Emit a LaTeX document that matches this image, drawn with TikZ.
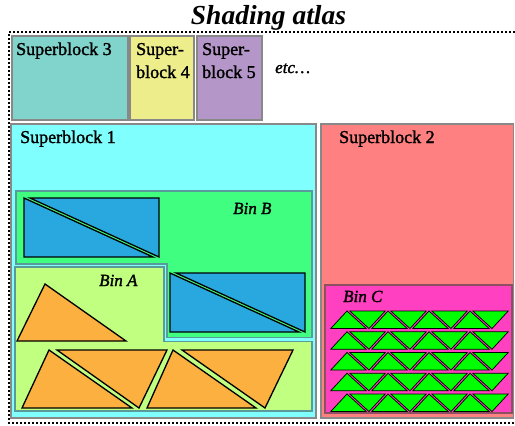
\documentclass[tikz,border=0pt]{standalone}
\usepackage{fontspec}
\setmainfont{Liberation Serif}
\newfontfamily\lblfont[FakeBold=1.6]{Liberation Serif}
\definecolor{sbgray}{HTML}{888888}
\definecolor{sbthree}{HTML}{80D4CC}
\definecolor{sbfour}{HTML}{EDED8C}
\definecolor{sbfive}{HTML}{B497C8}
\definecolor{sbone}{HTML}{80FFFF}
\definecolor{sbtwo}{HTML}{FF8080}
\definecolor{binb}{HTML}{40FF80}
\definecolor{bina}{HTML}{C0FF80}
\definecolor{binc}{HTML}{FF40C0}
\definecolor{bingray}{HTML}{5A9A9A}
\definecolor{bincedge}{HTML}{8C5060}
\definecolor{blu}{HTML}{29A8E0}
\definecolor{orng}{HTML}{FBB040}
\definecolor{grn}{HTML}{00FF00}
\begin{document}
\begin{tikzpicture}[x=1pt,y=-1pt,
  sb/.style={draw=sbgray, line width=1.8pt},
  binedge/.style={draw=bingray, line width=1.8pt},
  shp/.style={draw=black, line width=1.3pt, line join=miter},
  gtri/.style={draw=black, fill=grn, line width=0.75pt, line join=miter},
  lbl/.style={anchor=base west, inner sep=0pt, font=\fontsize{18}{23}\lblfont},
  binlbl/.style={anchor=base west, inner sep=0pt, font=\fontsize{17}{20}\lblfont\itshape},
  atlasborder/.style={line width=1.8pt, dash pattern=on 2pt off 2pt}
]
\useasboundingbox (0,0) rectangle (515,426);

% title
\node[anchor=base, inner sep=0pt, font=\fontsize{27.5}{30}\selectfont\bfseries\itshape] (title) at (268.5,24) {Shading atlas};

% atlas border
\draw[atlasborder] (515,32) -- (9,32) -- (9,423) -- (515,423);

% top row superblocks
\draw[sb, fill=sbthree] (12,36) rectangle (128,120);
\draw[sb, fill=sbfour] (130,36) rectangle (194,120);
\draw[sb, fill=sbfive] (197,36) rectangle (262,120);
\node[lbl] (s3) at (16,55) {Superblock 3};
\node[lbl] (s4a) at (136,55) {Super-};
\node[lbl] (s4b) at (136,78) {block 4};
\node[lbl] (s5a) at (202,55) {Super-};
\node[lbl] (s5b) at (202,78) {block 5};
\node[binlbl] (etc) at (275,73) {etc\ldots};

% superblock 1 and 2
\draw[sb, fill=sbone] (11,124) rectangle (316,418);
\draw[sb, fill=sbtwo] (321,124) rectangle (513.5,418);
\node[lbl] (s1) at (20,143) {Superblock 1};
\node[lbl] (s2) at (339,143) {Superblock 2};

% Bin B
\draw[binedge, fill=binb] (16,191) -- (312,191) -- (312,337.5) -- (167,337.5) -- (167,264) -- (16,264) -- cycle;
% Bin A
\draw[binedge, fill=bina] (15,267) -- (164,267) -- (164,341.5) -- (312,341.5) -- (312,411) -- (15,411) -- cycle;
\node[binlbl] (binB) at (233,214) {Bin B};
\node[binlbl] (binA) at (99,286) {Bin A};

% blue rectangles split in two triangles
\draw[shp, fill=blu] (30,198) -- (159,198) -- (159,257) -- cycle;
\draw[shp, fill=blu] (24,198) -- (24,257) -- (153,257) -- cycle;
\draw[shp, fill=blu] (176,273) -- (305,273) -- (305,332) -- cycle;
\draw[shp, fill=blu] (170,273) -- (170,332) -- (299,332) -- cycle;

% orange triangles
\draw[shp, fill=orng] (17,341) -- (45,284) -- (126,341) -- cycle;
\draw[shp, fill=orng] (22,408) -- (49,350) -- (132,408) -- cycle;
\draw[shp, fill=orng] (57,350) -- (167,350) -- (139,408) -- cycle;
\draw[shp, fill=orng] (147,408) -- (173,350) -- (256,408) -- cycle;
\draw[shp, fill=orng] (182,350) -- (293,350) -- (265,408) -- cycle;

% Bin C
\draw[draw=bincedge, line width=1.8pt, fill=binc] (325,285) rectangle (512,413);
\node[binlbl] (binC) at (343,302) {Bin C};

\foreach \k in {0,...,4}{
  \pgfmathsetmacro{\ytop}{311+20.75*\k}
  \pgfmathsetmacro{\ybot}{\ytop+17.5}
  \foreach \i in {0,...,3}{
    \pgfmathsetmacro{\xa}{328+41*\i}
    \draw[gtri] (\xa+2.8,\ybot) -- (\xa+41-2.8,\ybot) -- (\xa+19,\ytop) -- cycle;
    \draw[gtri] (\xa+19+2.8,\ytop) -- (\xa+41+19-2.8,\ytop) -- (\xa+41,\ybot) -- cycle;
  }
}
\end{tikzpicture}
\end{document}
